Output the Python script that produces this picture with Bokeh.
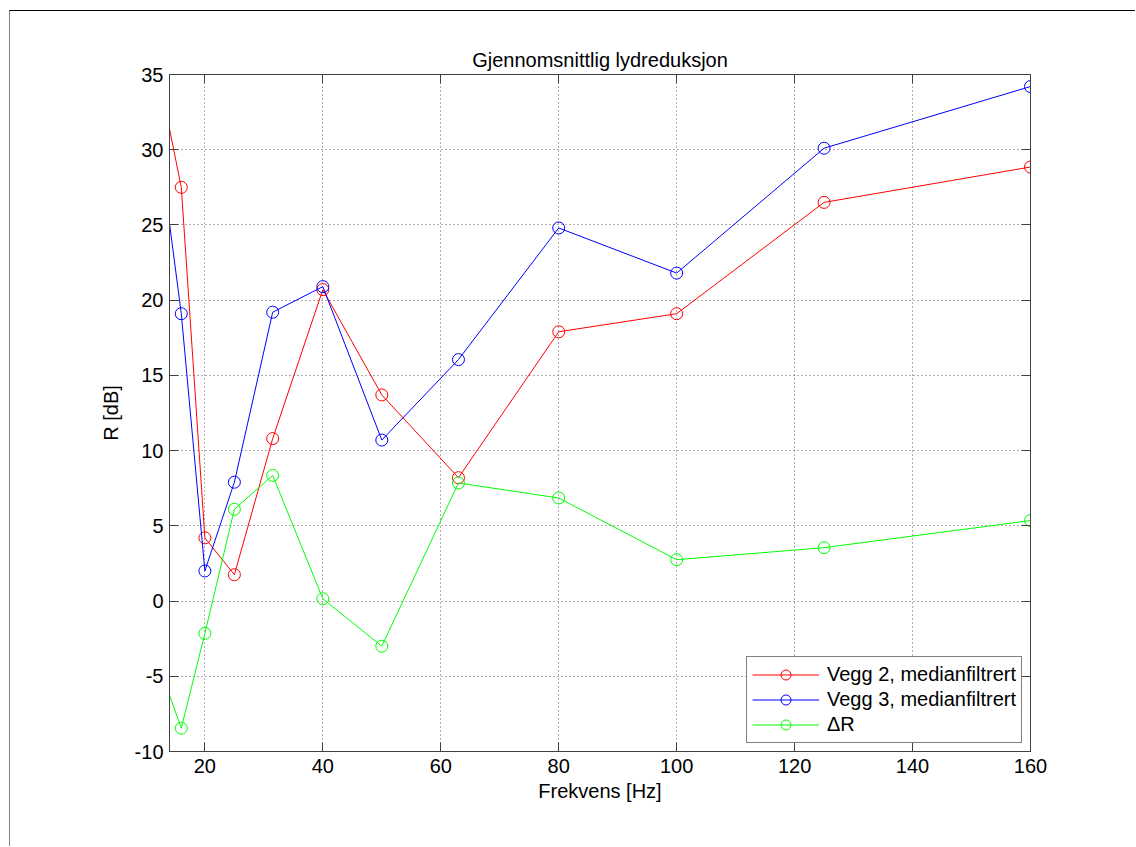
from bokeh.plotting import figure
from bokeh.models import LinearAxis, Range1d, FixedTicker, Legend, LegendItem
from bokeh.embed import file_html
from bokeh.resources import INLINE

# Data
freq = [12.5, 16, 20, 25, 31.5, 40, 50, 63, 80, 100, 125, 160]
vegg2 = [34.3, 27.5, 4.2, 1.75, 10.8, 20.7, 13.7, 8.2, 17.9, 19.1, 26.5, 28.85]
vegg3 = [29.6, 19.1, 2.0, 7.9, 19.2, 20.9, 10.7, 16.05, 24.8, 21.8, 30.1, 34.2]
delta = [-4.6, -8.45, -2.15, 6.1, 8.35, 0.15, -3.0, 7.85, 6.85, 2.75, 3.55, 5.35]

x_ticks = [20, 40, 60, 80, 100, 120, 140, 160]
y_ticks = [-10, -5, 0, 5, 10, 15, 20, 25, 30, 35]
y_tick_labels = ["-10", "-5", "0", "5", "10", "15", "20", "25", "30", "35"]

title_text = "Gjennomsnittlig lydreduksjon"
x_label = "Frekvens [Hz]"
y_label = "R [dB]"
labels = ["Vegg 2, medianfiltrert", "Vegg 3, medianfiltrert", "\u0394R"]
colors = ["#ff0000", "#0000ff", "#00ff00"]

FONT = "Liberation Sans"
AX = "#404040"

p = figure(width=1126, height=836,
           x_range=Range1d(14, 160), y_range=Range1d(-10, 35),
           output_backend="svg", toolbar_location=None,
           min_border_left=159, min_border_top=63,
           min_border_right=106, min_border_bottom=96,
           title=title_text)

p.styles = {"border-top": "1px solid #000000", "border-left": "1px solid #808080",
            "margin-top": "10px", "margin-left": "9px"}

p.title.text_font = FONT
p.title.text_font_size = "20px"
p.title.text_font_style = "normal"
p.title.text_color = "black"
p.title.align = "center"
p.title.standoff = 8

p.outline_line_color = AX
p.background_fill_color = "white"
p.border_fill_color = "white"

def style_axis(ax, ticks, show_labels=True):
    ax.ticker = FixedTicker(ticks=ticks)
    ax.axis_line_color = AX
    ax.major_tick_line_color = AX
    ax.major_tick_in = 9
    ax.major_tick_out = 0
    ax.minor_tick_line_color = None
    ax.major_label_text_font = FONT
    ax.major_label_text_font_size = "20px"
    ax.major_label_text_color = "black" if show_labels else None
    ax.axis_label_text_font = FONT
    ax.axis_label_text_font_size = "20px"
    ax.axis_label_text_font_style = "normal"
    ax.axis_label_text_color = "black"

xa = p.xaxis[0]
ya = p.yaxis[0]
style_axis(xa, x_ticks)
style_axis(ya, y_ticks)
ya.major_label_overrides = {t: s for t, s in zip(y_ticks, y_tick_labels)}
xa.axis_label = x_label
ya.axis_label = y_label
xa.major_label_standoff = 7
ya.major_label_standoff = 6
xa.axis_label_standoff = 4
ya.axis_label_standoff = 10

top = LinearAxis()
right = LinearAxis()
style_axis(top, x_ticks, show_labels=False)
style_axis(right, y_ticks, show_labels=False)
top.major_label_standoff = 0
right.major_label_standoff = 0
p.add_layout(top, "above")
p.add_layout(right, "right")

for g in (p.xgrid[0], p.ygrid[0]):
    g.grid_line_color = "#333333"
    g.grid_line_dash = "1 3"
    g.grid_line_width = 1
    g.grid_line_alpha = 0.8
p.xgrid[0].ticker = FixedTicker(ticks=x_ticks)
p.ygrid[0].ticker = FixedTicker(ticks=y_ticks)

items = []
for series, lab, col in zip([vegg2, vegg3, delta], labels, colors):
    l = p.line(freq, series, line_color=col, line_width=1)
    s = p.scatter(freq, series, marker="circle", size=12, fill_color=None,
                  line_color=col, line_width=1)
    items.append(LegendItem(label=lab, renderers=[l, s]))

legend = Legend(items=items, location="bottom_right")
legend.margin = 8
legend.padding = 5
legend.spacing = 0
legend.glyph_width = 67
legend.glyph_height = 25
legend.label_height = 25
legend.label_standoff = 8
legend.label_text_font = FONT
legend.label_text_font_size = "20px"
legend.label_text_color = "black"
legend.border_line_color = "black"
legend.border_line_width = 1
legend.background_fill_color = "white"
legend.background_fill_alpha = 1
p.add_layout(legend)

open("out.html", "w").write(file_html(p, INLINE))
